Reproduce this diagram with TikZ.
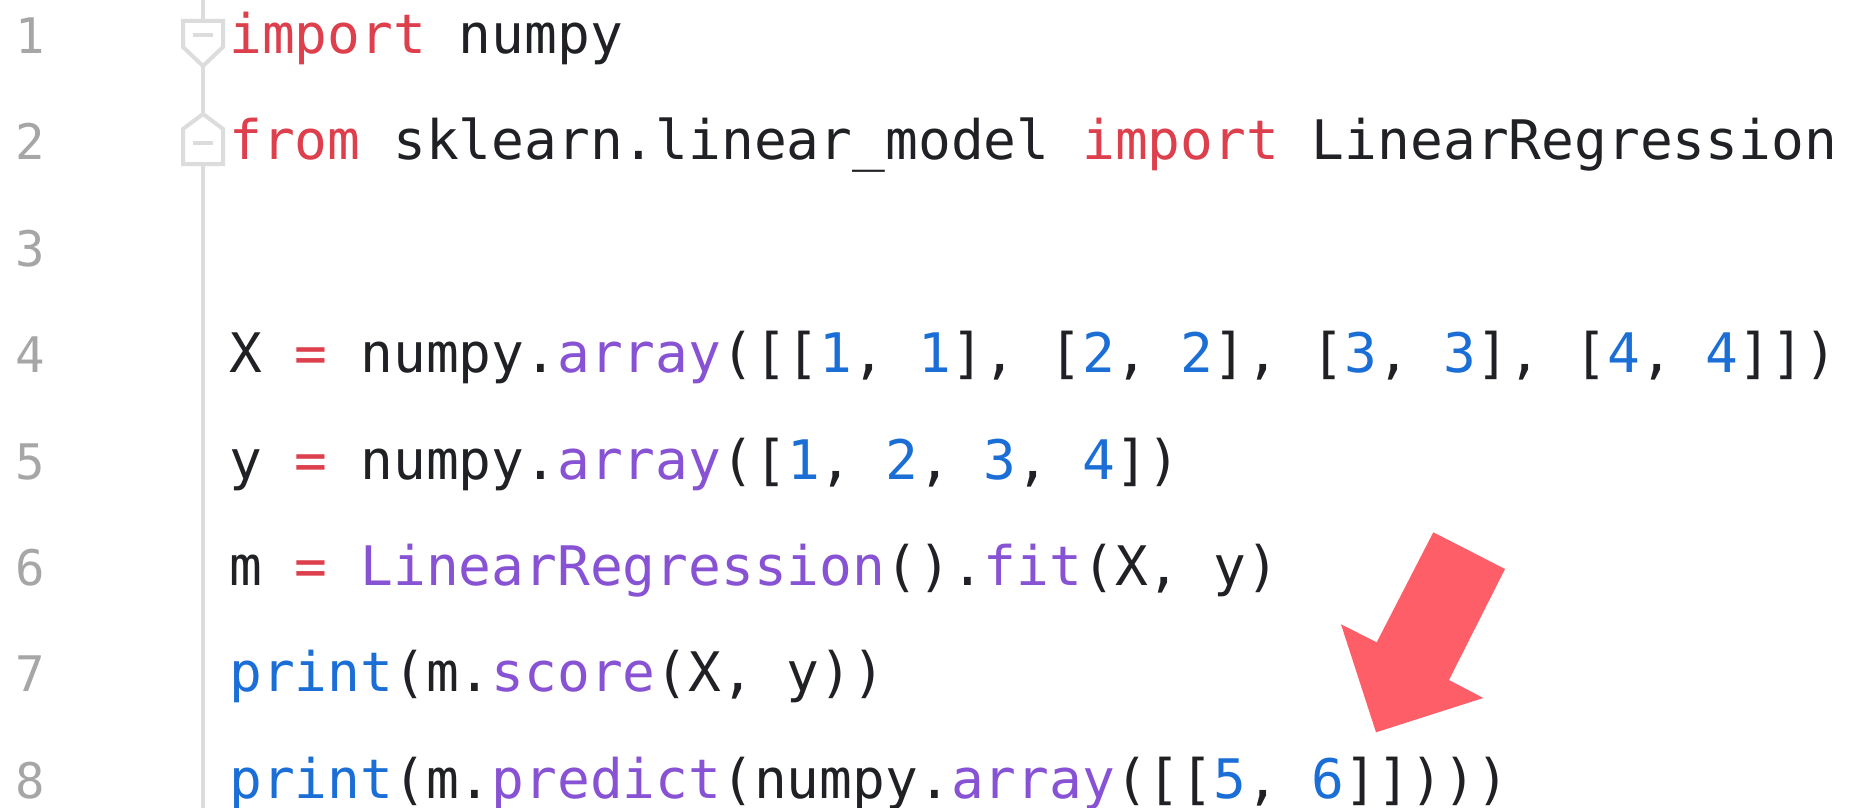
\documentclass[tikz,border=0pt]{standalone}
\usepackage{fontspec}
\newfontfamily\codefont{DejaVu Sans Mono}
\definecolor{codetext}{HTML}{202124}
\definecolor{codekw}{HTML}{DD3F4C}
\definecolor{codefn}{HTML}{8852D4}
\definecolor{codenum}{HTML}{1A6ED6}
\definecolor{gutternum}{HTML}{A6A6A6}
\definecolor{guttermark}{HTML}{DCDCDC}
\definecolor{pointer}{HTML}{FD5E68}
\newcommand{\kw}[1]{\textcolor{codekw}{#1}}
\newcommand{\fn}[1]{\textcolor{codefn}{#1}}
\newcommand{\nm}[1]{\textcolor{codenum}{#1}}
\tikzset{
  codeline/.style={anchor=base west, inner sep=0pt, text=codetext,
    font=\codefont\fontsize{54.5pt}{60pt}\selectfont},
  lineno/.style={anchor=base, inner sep=0pt, text=gutternum,
    font=\codefont\fontsize{49pt}{54pt}\selectfont},
  foldmark/.style={draw=guttermark, line width=4pt, line join=miter, fill=white},
  guide/.style={draw=guttermark, line width=4.5pt}
}
\begin{document}
\begin{tikzpicture}[x=1pt, y=-1pt]
  \useasboundingbox[fill=white] (0,0) rectangle (1850,808);

  % gutter: fold guide line and fold markers
  \coordinate (g0) at (203,0);
  \coordinate (g1) at (203,21);
  \coordinate (g2) at (203,66);
  \coordinate (g3) at (203,114);
  \coordinate (g4) at (203,164);
  \coordinate (g5) at (203,808);
  \draw[guide] (g0) -- (g1);
  \draw[guide] (g2) -- (g3);
  \draw[guide] (g4) -- (g5);
  \draw[foldmark] (183,21) -- (223,21) -- (223,47) -- (g2) -- (183,47) -- cycle;
  \draw[draw=guttermark, line width=3.5pt] (193,35) -- (213,35);
  \draw[foldmark] (g3) -- (223,129) -- (223,164) -- (183,164) -- (183,129) -- cycle;
  \draw[draw=guttermark, line width=3.5pt] (193,143) -- (213,143);

  % line numbers
  \foreach \i in {1,...,8} {
    \node[lineno] (n\i) at (30, {53.5 + (\i-1)*106.4}) {\i};
  }

  % source lines
  \node[codeline] (l1) at (229, 53.5) {\kw{import} numpy};
  \node[codeline] (l2) at (229, 159.9) {\kw{from} sklearn.linear\_model \kw{import} LinearRegression};
  \node[codeline] (l4) at (229, 372.7) {X \kw{=} numpy.\fn{array}([[\nm{1}, \nm{1}], [\nm{2}, \nm{2}], [\nm{3}, \nm{3}], [\nm{4}, \nm{4}]])};
  \node[codeline] (l5) at (229, 479.1) {y \kw{=} numpy.\fn{array}([\nm{1}, \nm{2}, \nm{3}, \nm{4}])};
  \node[codeline] (l6) at (229, 585.5) {m \kw{=} \fn{LinearRegression}().\fn{fit}(X, y)};
  \node[codeline] (l7) at (229, 691.9) {\nm{print}(m.\fn{score}(X, y))};
  \node[codeline] (l8) at (229, 798.3) {\nm{print}(m.\fn{predict}(numpy.\fn{array}([[\nm{5}, \nm{6}]])))};

  % pointer arrow
  \fill[pointer] (1433.3,532.3) -- (1505,569) -- (1449,680) -- (1483.3,698)
    -- (1376,732.3) -- (1341,624.3) -- (1376.7,642.3) -- cycle;
\end{tikzpicture}
\end{document}
